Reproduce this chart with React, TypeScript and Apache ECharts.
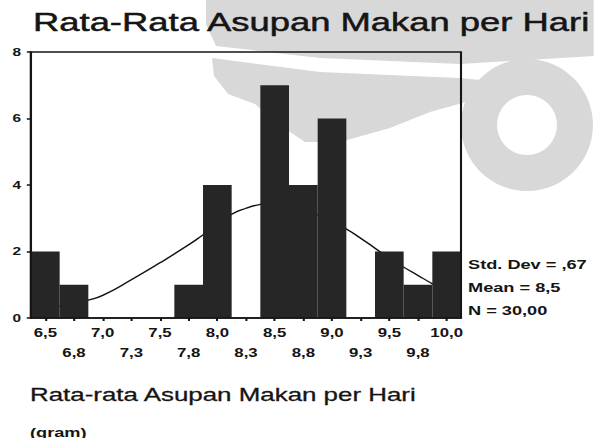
import React, { useEffect, useRef } from 'react';
import * as echarts from 'echarts';

// Histogram bins (midpoints, 0.25 wide) and their frequencies
const binLabels = ['6,5', '6,8', '7,0', '7,3', '7,5', '7,8', '8,0', '8,3', '8,5', '8,8', '9,0', '9,3', '9,5', '9,8', '10,0'];
const counts = [2, 1, 0, 0, 0, 1, 4, 0, 7, 4, 6, 0, 2, 1, 2];

// Fitted normal curve, sampled along the value axis
const curveX = [6.375, 6.625, 6.875, 7.0, 7.25, 7.5, 7.75, 7.875, 8.0, 8.125, 8.25, 8.375, 8.5, 8.625, 8.75, 8.875, 9.0, 9.125, 9.25, 9.375, 9.5, 9.625, 9.75, 9.875, 10.0, 10.125];
const curveY = [0.2, 0.35, 0.54, 0.68, 1.15, 1.66, 2.2, 2.5, 2.8, 3.12, 3.3, 3.42, 3.48, 3.42, 3.3, 3.1, 2.9, 2.68, 2.4, 2.1, 1.8, 1.53, 1.28, 1.03, 0.8, 0.62];

const yMin = 0;
const yMax = 8;
const yStep = 2;

const titleText = 'Rata-Rata Asupan Makan per Hari';
const axisTitle = 'Rata-rata Asupan Makan per Hari';
const unitText = '(gram)';
const statLines = ['Std. Dev = ,67', 'Mean = 8,5', 'N = 30,00'];

// The whole figure is drawn narrow and stretched horizontally
const STRETCH = 1.4;
const PAGE_W = 594;
const PAGE_H = 438;
const CW = PAGE_W / STRETCH;
const sx = (x: number) => x / STRETCH;
const pts = (list: number[][]) => list.map(([x, y]) => [sx(x), y]);

const FONT = '"Liberation Sans", Arial, sans-serif';
const INK = '#151515';
const MARK = '#d8d8d8';
const PAPER = '#ffffff';

// faint emblem printed behind the figure, built from separate grey pieces
const buildEmblem = (): any[] => [
  {
    type: 'polygon',
    shape: {
      points: pts([
        [206, 0], [594, 0], [594, 56], [460, 64], [320, 58], [216, 46], [206, 24],
      ]),
    },
    style: { fill: MARK },
  },
  {
    type: 'polygon',
    shape: {
      points: pts([
        [212, 58], [320, 72], [460, 78], [480, 80], [466, 102], [430, 112], [390, 128],
        [340, 142], [305, 142], [278, 124], [255, 104], [228, 94], [214, 76],
      ]),
    },
    style: { fill: MARK },
  },
  {
    type: 'ring',
    x: sx(527),
    y: 125,
    scaleX: 1 / STRETCH,
    shape: { cx: 0, cy: 0, r: 66, r0: 30 },
    style: { fill: MARK },
  },
];

export default function App() {
  const ref = useRef<HTMLDivElement>(null);

  useEffect(() => {
    if (!ref.current) return;
    const chart = echarts.init(ref.current, undefined, { renderer: 'svg', width: CW, height: PAGE_H });

    const option: any = {
      animation: false,
      backgroundColor: PAPER,
      grid: {
        left: sx(31),
        right: CW - sx(461),
        top: 52,
        bottom: PAGE_H - 318,
        show: true,
        borderColor: INK,
        borderWidth: 1.5,
        backgroundColor: 'transparent',
        z: 3,
      },
      xAxis: [
        {
          type: 'category',
          data: binLabels,
          boundaryGap: true,
          axisLine: { show: true, lineStyle: { color: INK, width: 1.5 } },
          axisTick: { show: true, alignWithLabel: true, length: 3, lineStyle: { color: INK, width: 1.5 } },
          axisLabel: {
            interval: 0,
            hideOverlap: false,
            margin: 5,
            color: INK,
            fontFamily: FONT,
            fontWeight: 'bold',
            fontSize: 12,
            lineHeight: 20,
            formatter: (v: string, i: number) => (i % 2 === 1 ? '\n' + v : v),
          },
          splitLine: { show: false },
        },
        {
          type: 'value',
          min: curveX[0],
          max: curveX[curveX.length - 1],
          show: false,
        },
      ],
      yAxis: {
        type: 'value',
        min: yMin,
        max: yMax,
        interval: yStep,
        axisLine: { show: true, lineStyle: { color: INK, width: 1.5 } },
        axisTick: { show: true, length: 3, lineStyle: { color: INK, width: 1.5 } },
        axisLabel: { color: INK, fontFamily: FONT, fontWeight: 'bold', fontSize: 11, margin: 7 },
        splitLine: { show: false },
      },
      series: [
        {
          type: 'line',
          xAxisIndex: 1,
          data: curveX.map((x, i) => [x, curveY[i]]),
          smooth: true,
          showSymbol: false,
          lineStyle: { color: INK, width: 1.3 },
          z: 1,
          silent: true,
        },
        {
          type: 'bar',
          xAxisIndex: 0,
          data: counts,
          barCategoryGap: '0%',
          itemStyle: { color: '#262626' },
          z: 2,
          silent: true,
        },
      ],
      graphic: [
        ...buildEmblem(),
        {
          type: 'text',
          x: sx(33),
          y: 22,
          style: { text: titleText, fill: INK, stroke: INK, lineWidth: 0.5, font: `26px ${FONT}`, textVerticalAlign: 'middle' },
        },
        {
          type: 'text',
          x: sx(30),
          y: 395,
          style: { text: axisTitle, fill: INK, stroke: INK, lineWidth: 0.3, font: `18.5px ${FONT}`, textVerticalAlign: 'middle' },
        },
        {
          type: 'text',
          x: sx(30),
          y: 432,
          style: { text: unitText, fill: INK, font: `bold 13px ${FONT}`, textVerticalAlign: 'middle' },
        },
        ...statLines.map((t, i) => ({
          type: 'text',
          x: sx(468),
          y: 264 + i * 23,
          style: { text: t, fill: INK, font: `bold 13px ${FONT}`, textVerticalAlign: 'middle' },
        })),
      ],
    };

    chart.setOption(option);
    return () => chart.dispose();
  }, []);

  return (
    <div
      ref={ref}
      style={{
        position: 'absolute',
        left: 0,
        top: 0,
        width: CW,
        height: PAGE_H,
        transform: `scaleX(${STRETCH})`,
        transformOrigin: '0 0',
        background: PAPER,
      }}
    />
  );
}
